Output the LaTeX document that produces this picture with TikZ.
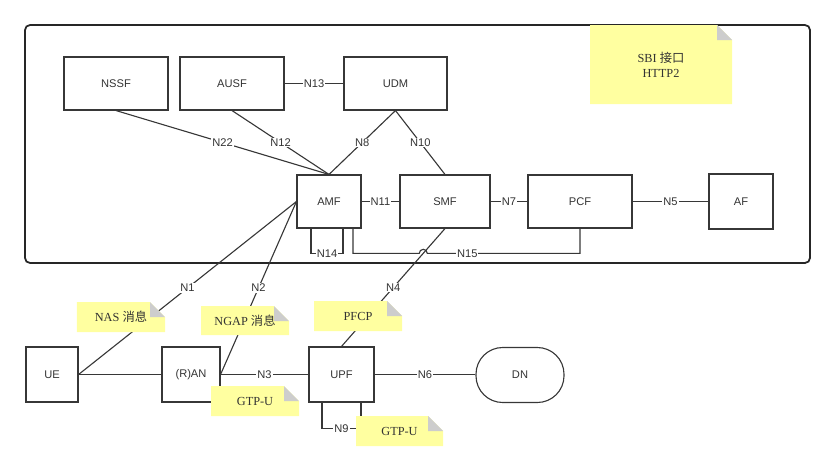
\documentclass[tikz,border=0pt]{standalone}
\usepackage{fontspec}
\setmainfont{Liberation Sans}
\newfontfamily\notefont{Liberation Serif}
\newfontfamily\cjk{Noto Sans CJK SC}
\usetikzlibrary{calc}
\definecolor{memoyellow}{RGB}{255,255,160}
\definecolor{foldgrey}{RGB}{205,205,205}
\definecolor{linegrey}{RGB}{55,55,55}

\tikzset{
    nf/.style={draw=linegrey, line width=0.95pt, inner sep=0pt, minimum height=1.59cm, text=black!80, font=\fontsize{9.5}{11}\selectfont},
    link/.style={draw=linegrey, line width=0.95pt},
    lbl/.style={fill=white, inner sep=0.8pt, text=black!80, font=\fontsize{9.5}{11}\selectfont},
    memo/.style={inner sep=0pt, minimum width=2.64cm, minimum height=0.9cm, text=black!80, font=\notefont\fontsize{10.5}{13}\selectfont,
        path picture={
            \fill[memoyellow] (path picture bounding box.south west) |- ($(path picture bounding box.north east)+(-15,0)$) -- ++(15,15) |- cycle;
            \fill[foldgrey] ($(path picture bounding box.north east)+(-15,0)$) -- ++(15,15) -- ++(-15,0) -- cycle;
        }}
}

\begin{document}
\begin{tikzpicture}[x=0.03cm, y=-0.03cm]
    \useasboundingbox (0,0) rectangle (836,471);
    \draw[line width=1.5pt, draw=black!85, rounded corners=0.15cm] (25,25) rectangle (810,263);

    \node[nf, minimum width=3.12cm] at (116,83.5) (nssf) {NSSF};
    \node[nf, minimum width=3.12cm] at (232,83.5) (ausf) {AUSF};
    \node[nf, minimum width=3.09cm] at (395.5,83.5) (udm) {UDM};
    \node[nf, minimum width=1.92cm] at (329,201.5) (amf) {AMF};
    \node[nf, minimum width=2.7cm] at (445,201.5) (smf) {SMF};
    \node[nf, minimum width=3.12cm] at (580,201.5) (pcf) {PCF};
    \node[nf, minimum width=1.92cm, minimum height=1.65cm] at (741,201.5) (af) {AF};
    \node[nf, minimum width=1.56cm, minimum height=1.65cm] at (52,374.5) (ue) {UE};
    \node[nf, minimum width=1.74cm, minimum height=1.65cm] at (191,374.5) (ran) {(R)AN};
    \node[nf, minimum width=1.95cm, minimum height=1.65cm] at (341.5,374.5) (upf) {UPF};
    \node[nf, minimum width=2.64cm, minimum height=1.65cm, rounded corners=0.8cm] at (520,375) (dn) {DN};

    \draw[link] (ausf) -- node[lbl] {N13} (udm);
    \draw[link] (nssf.south) -- node[lbl] {N22} (amf.north);
    \draw[link] (ausf.south) -- node[lbl] {N12} (amf.north);
    \draw[link] (udm.south) -- node[lbl] {N8} (amf.north);
    \draw[link] (udm.south) -- node[lbl] {N10} (smf.north);
    \draw[link] (amf) -- node[lbl] {N11} (smf);
    \draw[link] (smf) -- node[lbl] {N7} (pcf);
    \draw[link] (pcf) -- node[lbl] {N5} (af);
    \draw[link] ($(amf.south)+(-18,0)$) |- node[lbl, pos=0.75] {N14} ($(amf.south)+(14,25)$) -- ($(amf.south)+(14,0)$);
    \draw[link] (smf.south) -- node[lbl] {N4} coordinate[pos=0.21] (hop) (upf.north);
    \draw[link] ($(amf.south)+(24,0)$) |- ($(hop)+(-4,0)$) arc[start angle=180, end angle=0, radius=0.12cm] -- ($(hop -| pcf.south)$) -- (pcf.south);
    \node[lbl] at ($(hop)+(44,0)$) (n15) {N15};
    \draw[link] (ue) -- (ran);
    \draw[link] (ue.east) -- node[lbl] {N1} (amf.west);
    \draw[link] (ran.east) -- node[lbl] {N2} (amf.west);
    \draw[link] (ran) -- node[lbl] {N3} (upf);
    \draw[link] (upf) -- node[lbl] {N6} (upf -| dn.west);
    \draw[link] ($(upf.south)+(-19.5,0)$) |- node[lbl, pos=0.75] {N9} ($(upf.south)+(19.5,26)$) -- ($(upf.south)+(19.5,0)$);

    \node[memo, minimum width=4.26cm, minimum height=2.37cm, align=center] at (661,64.5) (sbi) {SBI {\cjk 接口}\\HTTP2};
    \node[memo] at (121,317) (nas) {NAS {\cjk 消息}};
    \node[memo, minimum height=0.87cm] at (245,320.5) (ngap) {NGAP {\cjk 消息}};
    \node[memo] at (358,316) (pfcp) {PFCP};
    \node[memo] at (255,401) (gtpran) {GTP-U};
    \node[memo, minimum width=2.61cm] at (399.5,431) (gtpupf) {GTP-U};
\end{tikzpicture}
\end{document}
